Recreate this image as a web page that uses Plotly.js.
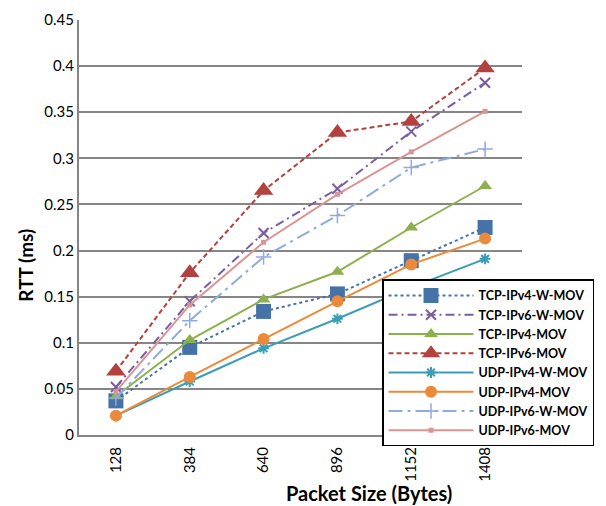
<!DOCTYPE html>
<html>
<head>
<meta charset="utf-8">
<script src="https://cdn.plot.ly/plotly-3.0.1.min.js"></script>
<style>html,body{margin:0;padding:0;background:#fff;}#chart{width:606px;height:506px;}</style>
</head>
<body>
<div id="chart"></div>
<script>
const packetSizes = ["128", "384", "640", "896", "1152", "1408"];
const seriesNames = ["TCP-IPv4-W-MOV", "TCP-IPv6-W-MOV", "TCP-IPv4-MOV", "TCP-IPv6-MOV",
                     "UDP-IPv4-W-MOV", "UDP-IPv4-MOV", "UDP-IPv6-W-MOV", "UDP-IPv6-MOV"];
const tcpIPv4WMov = [0.037, 0.095, 0.134, 0.153, 0.189, 0.225];
const tcpIPv6WMov = [0.052, 0.145, 0.219, 0.267, 0.329, 0.382];
const tcpIPv4Mov  = [0.042, 0.103, 0.147, 0.177, 0.225, 0.270];
const tcpIPv6Mov  = [0.069, 0.176, 0.265, 0.328, 0.340, 0.398];
const udpIPv4WMov = [0.021, 0.058, 0.094, 0.126, 0.160, 0.191];
const udpIPv4Mov  = [0.021, 0.063, 0.104, 0.145, 0.185, 0.213];
const udpIPv6WMov = [0.040, 0.124, 0.193, 0.238, 0.290, 0.310];
const udpIPv6Mov  = [0.047, 0.141, 0.209, 0.261, 0.307, 0.351];
const yTicks = [0, 0.05, 0.1, 0.15, 0.2, 0.25, 0.3, 0.35, 0.4, 0.45];

const values = [tcpIPv4WMov, tcpIPv6WMov, tcpIPv4Mov, tcpIPv6Mov, udpIPv4WMov, udpIPv4Mov, udpIPv6WMov, udpIPv6Mov];
const styles = [
  {color: "#4572A7", dash: "dot", symbol: "square", size: 15, lw: 0},
  {color: "#7B5EA0", dash: "9px,4px,2px,4px", symbol: "x-thin-open", size: 10, lw: 2},
  {color: "#8DB04F", dash: "solid", symbol: "triangle-up", size: 12, lw: 0},
  {color: "#B2423F", dash: "5px,3px", symbol: "triangle-up", size: 17, lw: 0},
  {color: "#3A9DB5", dash: "solid", symbol: "asterisk-open", size: 9, lw: 2},
  {color: "#EB8A3A", dash: "solid", symbol: "circle", size: 12, lw: 0},
  {color: "#8FAADC", dash: "14px,5px,3px,5px", symbol: "cross-thin-open", size: 11, lw: 1.5},
  {color: "#D99594", dash: "solid", symbol: "square", size: 5, lw: 0}
];

const traces = values.map((v, i) => ({
  type: "scatter", mode: "lines+markers", name: seriesNames[i],
  x: packetSizes, y: v,
  line: {color: styles[i].color, width: 2, dash: styles[i].dash},
  marker: {color: styles[i].color, symbol: styles[i].symbol, size: styles[i].size,
           line: {color: styles[i].color, width: styles[i].lw}}
}));

const layout = {
  width: 606, height: 506,
  margin: {l: 79, r: 77, t: 20, b: 71},
  paper_bgcolor: "#fff", plot_bgcolor: "#fff",
  font: {family: "Lato, Carlito, 'Liberation Sans', sans-serif", size: 14, color: "#000"},
  showlegend: true,
  xaxis: {
    type: "category", range: [-0.5, 5.5], tickangle: -90,
    showgrid: false, showline: true, linecolor: "#868686", linewidth: 2,
    ticks: "", tickfont: {size: 15}, ticklabelstandoff: 4
  },
  yaxis: {
    range: [0, 0.45], tickvals: yTicks, ticktext: yTicks.map(String),
    showgrid: true, gridcolor: "#868686", gridwidth: 2,
    showline: true, linecolor: "#868686", linewidth: 2,
    zeroline: false, ticks: "", tickfont: {size: 15}
  },
  legend: {
    x: 0.684, y: 0.375, xanchor: "left", yanchor: "top",
    bgcolor: "#fff", bordercolor: "#000", borderwidth: 1.5,
    font: {size: 12.5, family: "Lato, Carlito, sans-serif", weight: "bold"},
    tracegroupgap: 0, itemwidth: 85
  },
  annotations: [
    {text: "<b>Packet Size (Bytes)</b>", xref: "paper", yref: "paper", x: 0.654, y: -0.14,
     xanchor: "center", yanchor: "middle", showarrow: false, font: {size: 20}},
    {text: "<b>RTT (ms)</b>", xref: "paper", yref: "paper", x: -0.12, y: 0.41,
     xanchor: "center", yanchor: "middle", showarrow: false, textangle: -90, font: {size: 19}}
  ]
};

Plotly.newPlot("chart", traces, layout, {displayModeBar: false, staticPlot: true});
</script>
</body>
</html>
